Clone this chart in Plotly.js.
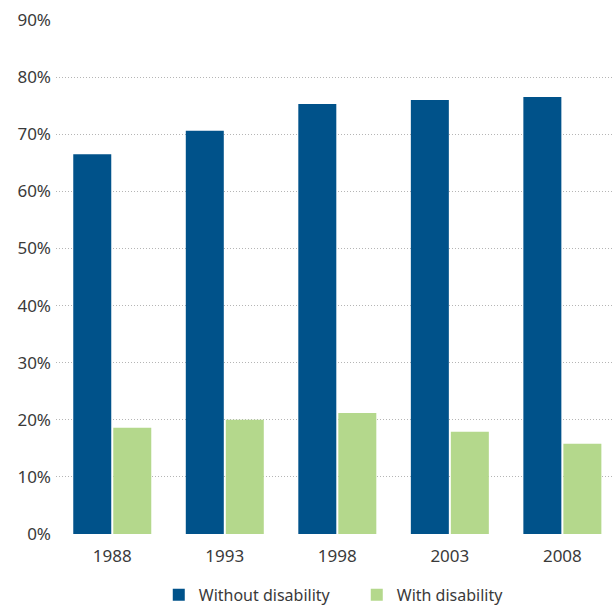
<!DOCTYPE html>
<html>
<head>
<meta charset="utf-8">
<script src="https://cdn.plot.ly/plotly-3.0.1.min.js"></script>
<style>html,body{margin:0;padding:0;background:#fff;}#chart{width:613px;height:607px;}</style>
</head>
<body>
<div id="chart"></div>
<script>
var years = ["1988", "1993", "1998", "2003", "2008"];
var withoutDisability = [0.665, 0.706, 0.753, 0.760, 0.765];
var withDisability = [0.186, 0.200, 0.212, 0.179, 0.158];
var tickValues = [0, 0.1, 0.2, 0.3, 0.4, 0.5, 0.6, 0.7, 0.8, 0.9];
var tickLabels = ["0%", "10%", "20%", "30%", "40%", "50%", "60%", "70%", "80%", "90%"];

var font = {family: "Noto Sans, Open Sans, sans-serif", size: 17, color: "#3a3a3a"};

var data = [
  {type: "bar", name: "Without disability", x: years, y: withoutDisability,
   marker: {color: "#00528a"}, hoverinfo: "skip"},
  {type: "bar", name: "With disability", x: years, y: withDisability,
   marker: {color: "#b4d88c"}, hoverinfo: "skip"}
];

var layout = {
  width: 613, height: 607,
  margin: {l: 56, r: 0, t: 20, b: 73, autoexpand: false},
  paper_bgcolor: "#fff", plot_bgcolor: "#fff",
  font: font,
  barmode: "group",
  bargap: 0.289,
  bargroupgap: 0.05,
  showlegend: true,
  legend: {orientation: "h", xref: "container", yref: "container",
           x: 0.259, xanchor: "left", y: 0.02, yanchor: "middle",
           font: {family: "Noto Sans, Open Sans, sans-serif", size: 16, color: "#3a3a3a"},
           itemwidth: 30, tracegroupgap: 0, entrywidth: 153, entrywidthmode: "pixels"},
  xaxis: {type: "category", range: [-0.5, 4.45], showgrid: false, zeroline: false,
          showline: false, ticks: "", tickfont: font, ticklabelstandoff: 10, fixedrange: true},
  yaxis: {range: [0, 0.9], tickvals: tickValues, ticktext: tickLabels,
          showgrid: true, gridcolor: "#b5b5b5", gridwidth: 1, griddash: "1px,2px",
          zeroline: false, showline: false, ticks: "", ticklabelstandoff: 4,
          tickfont: font, fixedrange: true}
};

Plotly.newPlot("chart", data, layout, {displayModeBar: false, staticPlot: true});
</script>
</body>
</html>
